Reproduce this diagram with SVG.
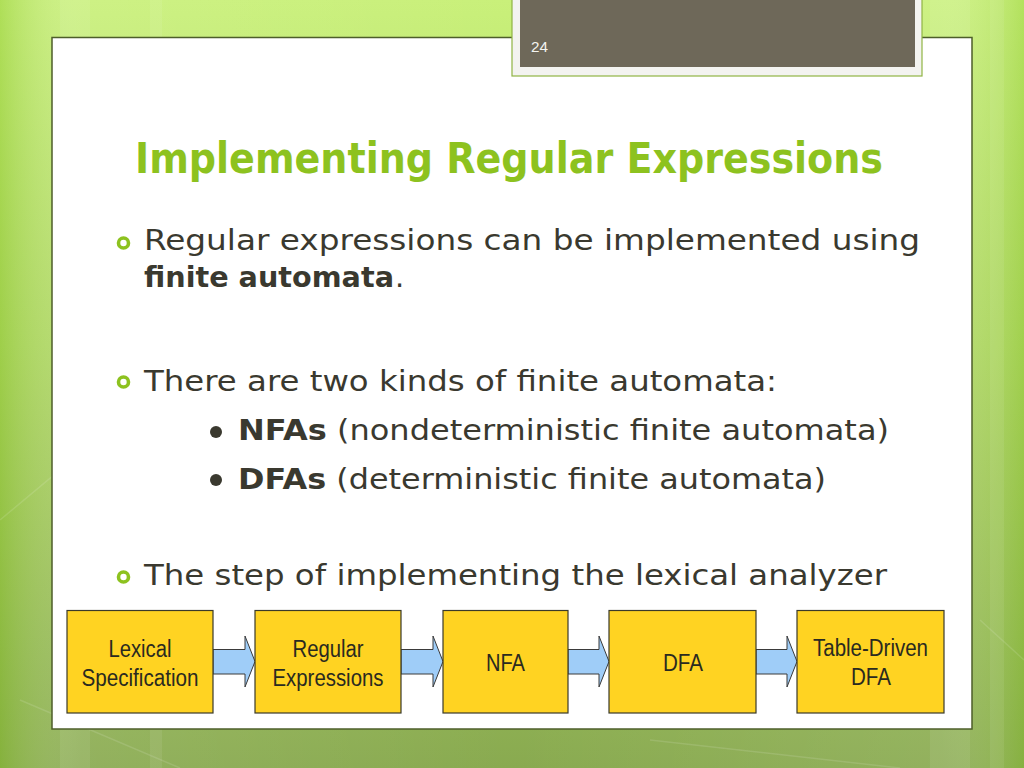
<svg xmlns="http://www.w3.org/2000/svg" width="1024" height="768" viewBox="0 0 1024 768">
  <defs>
    <linearGradient id="bgV" x1="0" y1="0" x2="0" y2="1">
      <stop offset="0" stop-color="#c9f07a"/>
      <stop offset="0.45" stop-color="#afd763"/>
      <stop offset="1" stop-color="#89aa50"/>
    </linearGradient>
    <linearGradient id="bgH" x1="0" y1="0" x2="1" y2="0">
      <stop offset="0" stop-color="#7fbf1a" stop-opacity="0.35"/>
      <stop offset="0.08" stop-color="#ffffff" stop-opacity="0.08"/>
      <stop offset="0.5" stop-color="#ffffff" stop-opacity="0"/>
      <stop offset="0.92" stop-color="#ffffff" stop-opacity="0.08"/>
      <stop offset="1" stop-color="#7fbf1a" stop-opacity="0.3"/>
    </linearGradient>
    <style>
      .body { font-family: "DejaVu Sans", "Liberation Sans", sans-serif; font-size: 29px; fill: #3a392f; }
      .b { font-weight: bold; }
      .title { font-family: "DejaVu Sans", "Liberation Sans", sans-serif; font-size: 42px; font-weight: bold; fill: #8dc21f; }
      .ring { fill: none; stroke: #8dc21f; stroke-width: 3.6; }
      .dot { fill: #3a392f; }
      .box { fill: #ffd322; stroke: #3a3a2a; stroke-width: 1.2; }
      .lbl { font-family: "Liberation Sans", Arial, sans-serif; font-size: 23px; fill: #2a2a20; text-anchor: middle; }
      .arrow { fill: #9fcdf8; stroke: #3a3a3a; stroke-width: 1; stroke-linejoin: miter; }
    </style>
  </defs>

  <!-- background -->
  <rect x="0" y="0" width="1024" height="768" fill="url(#bgV)"/>
  <rect x="0" y="0" width="1024" height="768" fill="url(#bgH)"/>
  <g fill="#ffffff" opacity="0.07">
    <rect x="60" y="0" width="30" height="768"/>
    <rect x="150" y="0" width="12" height="768"/>
    <rect x="930" y="0" width="40" height="768"/>
    <rect x="990" y="0" width="14" height="768"/>
  </g>
  <g stroke="#ffffff" stroke-opacity="0.12" stroke-width="1.5" fill="none">
    <path d="M0 520 L60 470 L110 560"/>
    <path d="M20 700 L180 768"/>
    <path d="M650 740 L900 768"/>
    <path d="M980 620 L1024 660"/>
  </g>

  <!-- slide panel -->
  <rect x="52" y="37.5" width="920" height="691.5" fill="#ffffff" stroke="#4d5e2a" stroke-width="1.5"/>

  <!-- page number tab -->
  <g id="page-number">
    <rect x="512" y="-4" width="410" height="80" fill="#f3f3f0" stroke="#8fb444" stroke-width="1.2"/>
    <rect x="520" y="-2" width="395" height="69" fill="#6e6859"/>
    <text x="531" y="52" font-family="Liberation Sans, sans-serif" font-size="15" fill="#f4f4f0" textLength="17" lengthAdjust="spacingAndGlyphs">24</text>
  </g>

  <!-- title -->
  <text class="title" x="135" y="173" textLength="748" lengthAdjust="spacingAndGlyphs">Implementing Regular Expressions</text>

  <!-- bullets -->
  <g id="bullets">
    <circle class="ring" cx="123.5" cy="243" r="5"/>
    <text class="body" x="144" y="249.5" textLength="776" lengthAdjust="spacingAndGlyphs">Regular expressions can be implemented using</text>
    <text class="body b" x="144" y="287" textLength="250" lengthAdjust="spacingAndGlyphs">finite automata</text>
    <text class="body" x="395" y="287">.</text>

    <circle class="ring" cx="123.5" cy="382" r="5"/>
    <text class="body" x="144" y="390.5" textLength="633" lengthAdjust="spacingAndGlyphs">There are two kinds of finite automata:</text>

    <circle class="dot" cx="216" cy="432" r="6"/>
    <text class="body" x="238" y="440" textLength="651" lengthAdjust="spacingAndGlyphs"><tspan class="b">NFAs</tspan> (nondeterministic finite automata)</text>

    <circle class="dot" cx="216" cy="480" r="6"/>
    <text class="body" x="238" y="488.5" textLength="588" lengthAdjust="spacingAndGlyphs"><tspan class="b">DFAs</tspan> (deterministic finite automata)</text>

    <circle class="ring" cx="123.5" cy="577" r="5"/>
    <text class="body" x="144" y="585" textLength="743" lengthAdjust="spacingAndGlyphs">The step of implementing the lexical analyzer</text>
  </g>

  <!-- connectors -->
  <g id="connectors">
    <path class="arrow" d="M213 649.5 H245 V636 L255 661.5 L245 687 V674 H213 Z"/>
    <path class="arrow" d="M401 649.5 H433 V636 L443 661.5 L433 687 V674 H401 Z"/>
    <path class="arrow" d="M568 649.5 H599 V636 L609 661.5 L599 687 V674 H568 Z"/>
    <path class="arrow" d="M756 649.5 H787 V636 L797 661.5 L787 687 V674 H756 Z"/>
  </g>

  <!-- nodes -->
  <g id="node-lexical-spec">
    <rect class="box" x="67" y="610.5" width="146" height="102.5"/>
    <text class="lbl" x="140" y="657" textLength="63" lengthAdjust="spacingAndGlyphs">Lexical</text>
    <text class="lbl" x="140" y="686" textLength="117" lengthAdjust="spacingAndGlyphs">Specification</text>
  </g>
  <g id="node-regex">
    <rect class="box" x="255" y="610.5" width="146" height="102.5"/>
    <text class="lbl" x="328" y="657" textLength="71" lengthAdjust="spacingAndGlyphs">Regular</text>
    <text class="lbl" x="328" y="686" textLength="111" lengthAdjust="spacingAndGlyphs">Expressions</text>
  </g>
  <g id="node-nfa">
    <rect class="box" x="443" y="610.5" width="125" height="102.5"/>
    <text class="lbl" x="505.5" y="671" textLength="39" lengthAdjust="spacingAndGlyphs">NFA</text>
  </g>
  <g id="node-dfa">
    <rect class="box" x="609" y="610.5" width="147" height="102.5"/>
    <text class="lbl" x="683" y="671" textLength="40" lengthAdjust="spacingAndGlyphs">DFA</text>
  </g>
  <g id="node-table-dfa">
    <rect class="box" x="797" y="610.5" width="147" height="102.5"/>
    <text class="lbl" x="870.5" y="656" textLength="115" lengthAdjust="spacingAndGlyphs">Table-Driven</text>
    <text class="lbl" x="871" y="685" textLength="40" lengthAdjust="spacingAndGlyphs">DFA</text>
  </g>
</svg>
